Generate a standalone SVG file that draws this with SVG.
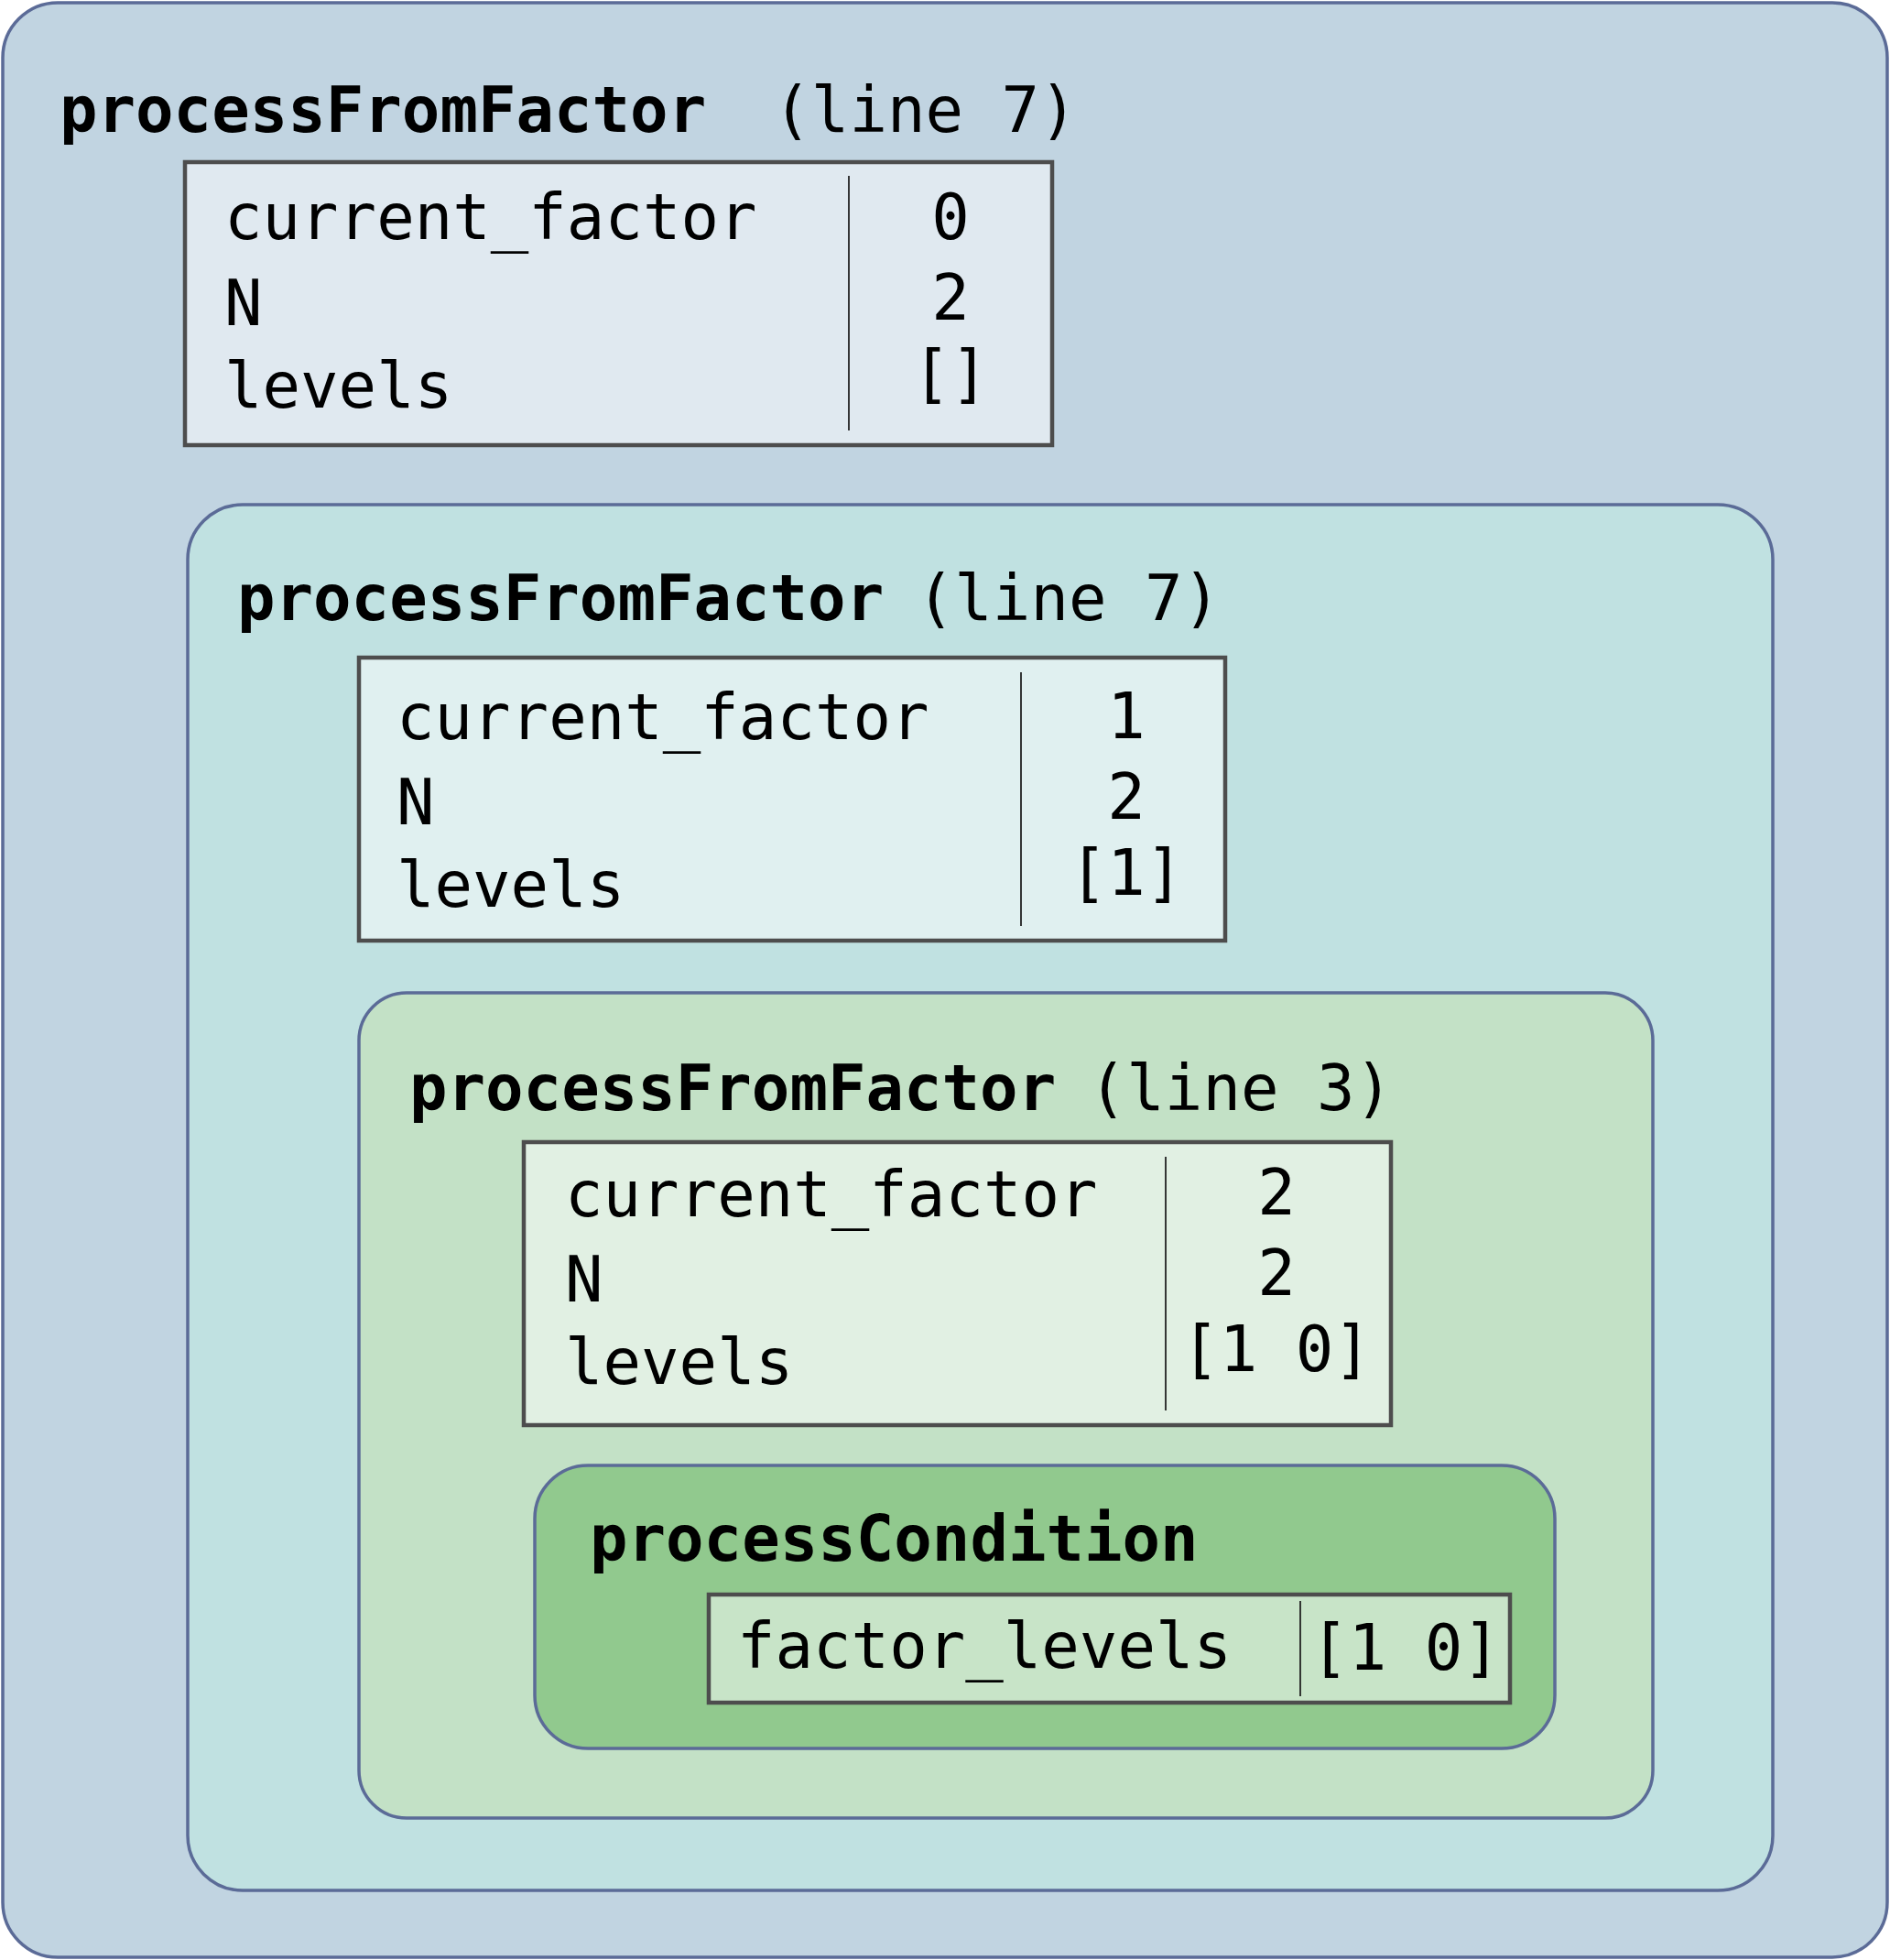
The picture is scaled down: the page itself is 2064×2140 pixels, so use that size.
<svg xmlns="http://www.w3.org/2000/svg" width="2064" height="2140" viewBox="0 0 2064 2140">
<style>
.frame{stroke:#5b6b97;stroke-width:3.5}
.tbl{stroke:#4d4d4d;stroke-width:4.5}
.div{stroke:#222;stroke-width:1.8}
text{font-family:"DejaVu Sans Mono","Liberation Mono",monospace;font-size:69px;fill:#000}
.b{font-weight:bold}
.v{text-anchor:middle}
</style>
<g id="frame1">
<rect class="frame" x="3" y="3" width="2058" height="2134" rx="60" fill="#c1d4e1"/>
<text x="65" y="144" xml:space="preserve"><tspan class="b">processFromFactor</tspan><tspan dx="-10">  (line 7)</tspan></text>
<g id="table1">
<rect class="tbl" x="202" y="177" width="947" height="309" fill="#e0e9f0"/>
<line class="div" x1="927" y1="192" x2="927" y2="470"/>
<text x="245" y="261">current_factor</text>
<text x="245" y="355">N</text>
<text x="245" y="445">levels</text>
<text class="v" x="1038" y="261">0</text>
<text class="v" x="1038" y="349">2</text>
<text class="v" x="1038" y="432">[]</text>
</g>
</g>
<g id="frame2">
<rect class="frame" x="205" y="551" width="1731" height="1513" rx="60" fill="#c0e1e1"/>
<text x="259" y="677" xml:space="preserve"><tspan class="b">processFromFactor</tspan><tspan dx="-6"> (line 7)</tspan></text>
<g id="table2">
<rect class="tbl" x="392" y="718" width="946" height="309" fill="#e0f0f0"/>
<line class="div" x1="1115" y1="734" x2="1115" y2="1011"/>
<text x="433" y="807">current_factor</text>
<text x="433" y="900">N</text>
<text x="433" y="990">levels</text>
<text class="v" x="1230" y="806">1</text>
<text class="v" x="1230" y="894">2</text>
<text class="v" x="1230" y="977">[1]</text>
</g>
</g>
<g id="frame3">
<rect class="frame" x="392" y="1084" width="1413" height="901" rx="52" fill="#c3e1c6"/>
<text x="447" y="1212" xml:space="preserve"><tspan class="b">processFromFactor</tspan><tspan dx="-6"> (line 3)</tspan></text>
<g id="table3">
<rect class="tbl" x="572" y="1247" width="947" height="309" fill="#e1f0e3"/>
<line class="div" x1="1273" y1="1263" x2="1273" y2="1540"/>
<text x="617" y="1328">current_factor</text>
<text x="617" y="1421">N</text>
<text x="617" y="1511">levels</text>
<text class="v" x="1394" y="1326">2</text>
<text class="v" x="1394" y="1414">2</text>
<text class="v" x="1394" y="1497">[1 0]</text>
</g>
</g>
<g id="frame4">
<rect class="frame" x="584" y="1600" width="1114" height="309" rx="58" fill="#91c98e"/>
<text class="b" x="644" y="1704">processCondition</text>
<g id="table4">
<rect class="tbl" x="774" y="1741" width="875" height="118" fill="#c8e4c8"/>
<line class="div" x1="1420" y1="1748" x2="1420" y2="1852"/>
<text x="805" y="1821">factor_levels</text>
<text class="v" x="1535" y="1823">[1 0]</text>
</g>
</g>
<g id="connectors"/>
</svg>
